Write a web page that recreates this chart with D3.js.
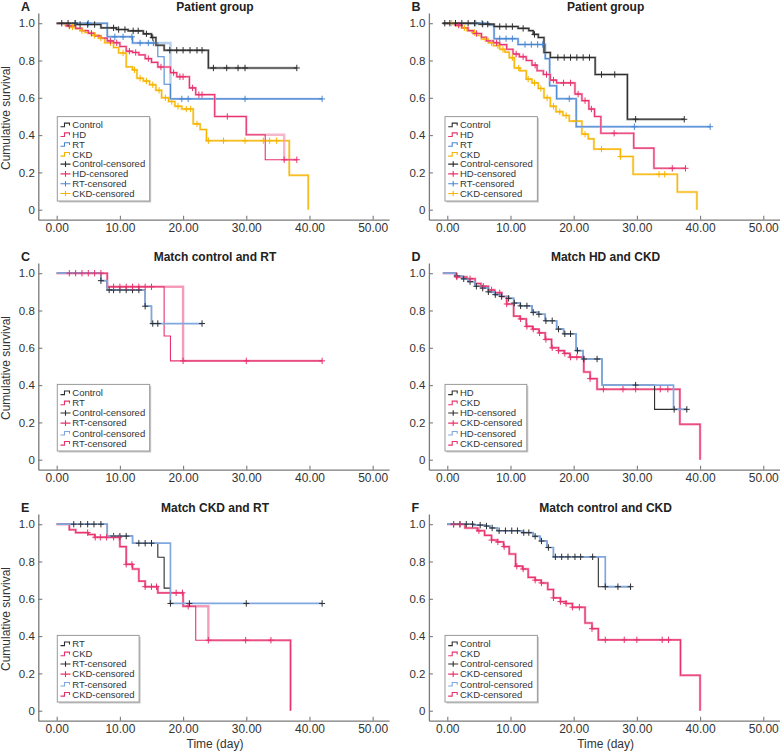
<!DOCTYPE html>
<html><head><meta charset="utf-8">
<script src="https://cdn.jsdelivr.net/npm/d3@7"></script>
<style>
body{margin:0;background:#fff}
svg{display:block}
text{font-family:"Liberation Sans",Arial,Helvetica,sans-serif}
</style>
</head><body>
<svg id="chart" width="780" height="752"></svg>
<script>
// ---------- axis ticks ----------
const xTicks = [0, 10, 20, 30, 40, 50];
const xTickLabels = ["0.00", "10.00", "20.00", "30.00", "40.00", "50.00"];
const yTicks = [0, 0.2, 0.4, 0.6, 0.8, 1.0];
const yTickLabels = ["0", "0.2", "0.4", "0.6", "0.8", "1.0"];

// ---------- Panel A : events [time, survival], censored times ----------
const A_control = [[3,0.993],[7,0.975],[9.5,0.966],[11.3,0.959],[13.7,0.943],[15,0.923],[15.7,0.882],[17,0.855],[24,0.76]];
const A_control_c = [0.8,1.8,2.9,3.7,4.9,6,9,9.8,10.8,12.1,12.9,14.2,15.2,17.9,19,20,21.1,22.2,23,24.8,26.9,28.7,29.8,38];
const A_hd = [[1.5,0.985],[3,0.972],[4,0.96],[5,0.946],[6,0.932],[7,0.92],[8,0.905],[9,0.895],[10,0.875],[11,0.85],[12,0.843],[13,0.83],[14,0.81],[15,0.79],[16,0.765],[18,0.735],[19,0.713],[21,0.653],[22,0.617],[25,0.5],[30,0.402],[33,0.268]];
const A_hd_alt = [[1.5,0.985],[3,0.972],[4,0.96],[5,0.946],[6,0.932],[7,0.92],[8,0.905],[9,0.895],[10,0.875],[11,0.85],[12,0.843],[13,0.83],[14,0.81],[15,0.79],[16,0.765],[18,0.735],[19,0.713],[21,0.653],[22,0.617],[25,0.5],[30,0.402],[36,0.268]];
const A_hd_c = [2,5.5,8.5,9.5,11.5,12.5,14.5,16.5,18.5,19.5,20,21.5,22.5,23,27,36,38];
const A_rt = [[8,0.927],[12,0.894],[16,0.82],[17,0.673],[18,0.594]];
const A_rt_alt = [[8,0.927],[12,0.894],[18,0.594]];
const A_rt_c = [3,5,9.2,10.5,11.9,13.2,14.5,15.3,19.8,20.8,29.8,42];
const A_ckd = [[1.3,0.99],[2,0.98],[3,0.97],[3.7,0.96],[4.5,0.95],[5.5,0.935],[6.6,0.92],[7.6,0.895],[9,0.87],[9.8,0.84],[11,0.766],[12,0.75],[12.7,0.705],[13.7,0.69],[14.7,0.67],[15.7,0.64],[16.6,0.6],[17.7,0.58],[18.7,0.555],[19.8,0.54],[21.6,0.46],[22.7,0.43],[23.7,0.37],[36.8,0.185],[39.8,0]];
const A_ckd_c = [2.5,4,6,7,8.5,10.5,12.3,13.2,14.2,15.2,16.2,17.2,18.2,19.2,20.5,21.2,22.2,24,26.4,29.8,32.7,33.7,34.8];

// ---------- Panel B ----------
const B_control = [[5,0.995],[7.4,0.982],[11.2,0.972],[12.9,0.96],[13.6,0.94],[14.4,0.923],[15.3,0.843],[16.3,0.816],[23.4,0.725],[28.5,0.485]];
const B_control_c = [-0.4,0.4,1.3,2.3,3.3,4.3,5.6,6.4,8.3,9.3,10.3,12,13.8,17.5,18.5,19.5,20.5,21.5,22.5,24.4,26.5,29.8,37.5];
const B_hd = [[1.2,0.99],[2.3,0.975],[3.3,0.96],[4.1,0.945],[5.4,0.925],[6.2,0.905],[7.3,0.895],[8.3,0.885],[9.4,0.86],[10.4,0.835],[11.4,0.82],[12.5,0.8],[13.4,0.775],[14.2,0.745],[15.2,0.725],[16.3,0.695],[17.3,0.68],[20.2,0.62],[21.3,0.585],[22.4,0.54],[23.3,0.5],[24.3,0.41],[29.5,0.33],[32.7,0.222]];
const B_hd_c = [1.8,4.6,7.8,10.9,12,13.9,15.7,16.8,18.4,19.5,20.7,21.8,22.8,26.4,35.6,37.7];
const B_rt = [[6.5,0.99],[7.4,0.917],[11.2,0.886],[15.5,0.81],[16.2,0.665],[17.3,0.595],[20.4,0.445]];
const B_rt_c = [4.5,5.5,8.3,9.3,10.3,12.3,13.3,14.3,15.1,19.3,29.6,41.6];
const B_ckd = [[1.5,0.985],[2.3,0.975],[3.1,0.96],[3.9,0.95],[4.7,0.935],[5.4,0.915],[6.5,0.895],[7.3,0.88],[8.3,0.86],[9.1,0.845],[9.8,0.815],[10.6,0.76],[11.5,0.745],[12.5,0.7],[13.4,0.68],[14.4,0.65],[15.3,0.6],[16.3,0.555],[17.2,0.525],[18.3,0.505],[19.3,0.475],[21.3,0.405],[22.3,0.38],[23.2,0.325],[27.4,0.285],[29.4,0.19],[36.4,0.095],[39.5,0]];
const B_ckd_c = [0.7,2.7,4.3,6,7,8,8.8,10.3,11.3,12.8,13.8,14.8,15.8,16.8,17.8,18.8,20.3,21.8,24.4,27.4,33.5,34.4];

// ---------- Panel C ----------
const C_control = [[7,0.96],[8,0.91],[14,0.823],[15,0.73]];
const C_control_c = [7,8.3,9,10,11,12,13,14,15.2,16,23];
const C_rt = [[8,0.927],[17,0.663],[18,0.53]];
const C_rt_alt = [[8,0.927],[20,0.53]];
const C_rt_c = [2,3,4,5,6,7,9,10,11,12,13,14,15,20,30,42];

// ---------- Panel D ----------
const D_hd = [[1.2,0.985],[2.3,0.97],[3.3,0.955],[4.4,0.93],[5.4,0.92],[6.5,0.9],[7.5,0.885],[8.6,0.875],[9.7,0.865],[10.5,0.84],[11.5,0.825],[13.4,0.79],[14.4,0.78],[15.5,0.745],[17.3,0.7],[18.4,0.675],[20.4,0.585],[21.5,0.54],[24.5,0.4],[32.8,0.27]];
const D_hd_alt = [[1.2,0.985],[2.3,0.97],[3.3,0.955],[4.4,0.93],[5.4,0.92],[6.5,0.9],[7.5,0.885],[8.6,0.875],[9.7,0.865],[10.5,0.84],[11.5,0.825],[13.4,0.79],[14.4,0.78],[15.5,0.745],[17.3,0.7],[18.4,0.675],[20.4,0.585],[21.5,0.54],[24.5,0.4],[35.8,0.27]];
const D_hd_c = [1.5,2.6,3.6,4.6,5.6,6.5,7.6,8.6,9.7,10.6,11.6,12.6,13.6,14.5,15.6,16.6,17.6,18.6,19.5,20.6,21.6,23.7,29.8,35.9,37.9];
const D_ckd = [[1.4,0.98],[3.1,0.97],[4.4,0.945],[5.3,0.93],[6.5,0.91],[7.5,0.895],[8.6,0.875],[9.4,0.835],[10.5,0.77],[11.5,0.755],[12.5,0.715],[13.5,0.7],[14.5,0.68],[15.5,0.645],[16.5,0.6],[17.6,0.585],[18.5,0.57],[19.4,0.55],[21.6,0.47],[22.6,0.435],[23.7,0.378],[36.8,0.19],[40,0]];
const D_ckd_c = [1.5,3.6,5.7,7,8.3,9.4,11.6,12.6,13.6,14.6,15.6,16.6,17.6,18.6,19.5,20.5,22.6,24.7,27.8,29.8,33.7,34.9];

// ---------- Panel E ----------
const E_rt = [[8,0.936],[12,0.898],[16,0.823],[17,0.657],[18,0.575]];
const E_rt_alt = [[8,0.936],[12,0.898],[18,0.575]];
const E_rt_c = [2.7,3.8,4.9,5.9,7,9,10,11,13,14,15,18,21,30,42];
const E_ckd = [[2,0.97],[3,0.955],[5,0.945],[6,0.93],[10,0.88],[11,0.785],[12,0.76],[13,0.695],[14,0.665],[16,0.632],[20,0.56],[22,0.378],[37,0]];
const E_ckd_alt = [[2,0.97],[3,0.955],[5,0.945],[6,0.93],[10,0.88],[11,0.785],[12,0.76],[13,0.695],[14,0.665],[16,0.632],[20,0.56],[24,0.378],[37,0]];
const E_ckd_c = [4.9,6.1,6.9,7.9,9,9.9,11,11.9,14,15,15.8,18.9,19.9,20.8,24,29.9,33.9];

// ---------- Panel F ----------
const F_control = [[4.1,0.995],[6,0.99],[6.8,0.98],[7.9,0.965],[11.8,0.955],[13.6,0.935],[14.7,0.91],[15.75,0.875],[16.8,0.825],[23.9,0.665]];
const F_control_alt = [[4.1,0.995],[6,0.99],[6.8,0.98],[7.9,0.965],[11.8,0.955],[13.6,0.935],[14.7,0.91],[15.75,0.875],[16.8,0.825],[25,0.665]];
const F_control_c = [1,2,3,4,5.2,6.2,7.1,8.2,9.2,10.2,11.1,12.1,12.9,13.9,14.9,16,17.1,18.1,19.1,20.2,21.1,23,25,27,29];
const F_ckd = [[2.8,0.98],[4.75,0.965],[5.9,0.94],[7,0.915],[7.9,0.905],[8.9,0.88],[9.8,0.84],[10.8,0.775],[11.9,0.76],[12.8,0.715],[13.9,0.7],[14.85,0.685],[15.9,0.65],[16.8,0.605],[17.9,0.585],[18.8,0.575],[19.8,0.555],[21.8,0.47],[22.9,0.44],[23.9,0.38],[36.9,0.19],[40,0]];
const F_ckd_c = [1,2,5,7,8,9,11,12,13.9,14.9,16.8,17.9,18.8,19.8,20.9,22.9,25,28,30,34,35];

// ---------- styles ----------
const BLACK = "#2e2e2e", BLACK_L = "#8a8a8a";
const PINK = "#e8336d", PINK_L = "#f39dbb";
const BLUE = "#4a87d2", BLUE_L = "#9dbfe9", BLUE_OV = "#80a8df";
const YEL = "#f6b400", YEL_L = "#fbd778";
const AXIS = "#7a7a7a", TXT = "#333";

const panels = [
  {letter:"A", title:"Patient group", col:0, row:0, start:0, ylab:true, xlab:false, mode:"multi",
   curves:[
     {ev:A_ckd, cens:A_ckd_c, thin:YEL, thick:YEL_L},
     {ev:A_rt, alt:A_rt_alt, cens:A_rt_c, thin:BLUE, thick:BLUE_L},
     {ev:A_hd, alt:A_hd_alt, cens:A_hd_c, thin:PINK, thick:PINK_L},
     {ev:A_control, cens:A_control_c, thin:BLACK, thick:BLACK_L}],
   legend:[["Control","step",BLACK],["HD","step",PINK],["RT","step",BLUE],["CKD","step",YEL],
           ["Control-censored","plus",BLACK],["HD-censored","plus",PINK],["RT-censored","plus",BLUE],["CKD-censored","plus",YEL]]},
  {letter:"B", title:"Patient group", col:1, row:0, start:-0.7, ylab:false, xlab:false, mode:"multi",
   curves:[
     {ev:B_ckd, cens:B_ckd_c, thin:YEL, thick:YEL_L},
     {ev:B_rt, cens:B_rt_c, thin:BLUE, thick:BLUE_L},
     {ev:B_hd, cens:B_hd_c, thin:PINK, thick:PINK_L},
     {ev:B_control, cens:B_control_c, thin:BLACK, thick:BLACK_L}],
   legend:[["Control","step",BLACK],["HD","step",PINK],["RT","step",BLUE],["CKD","step",YEL],
           ["Control-censored","plus",BLACK],["HD-censored","plus",PINK],["RT-censored","plus",BLUE],["CKD-censored","plus",YEL]]},
  {letter:"C", title:"Match control and RT", col:0, row:1, start:0, ylab:true, xlab:false, mode:"pair",
   g1:{ev:C_control, cens:C_control_c}, g2:{ev:C_rt, alt:C_rt_alt, cens:C_rt_c},
   legend:[["Control","step",BLACK],["RT","step",PINK],["Control-censored","plus",BLACK],["RT-censored","plus",PINK],["Control-censored","step",BLUE_OV],["RT-censored","step",PINK]]},
  {letter:"D", title:"Match HD and CKD", col:1, row:1, start:-0.7, ylab:false, xlab:false, mode:"pair",
   g1:{ev:D_hd, alt:D_hd_alt, cens:D_hd_c}, g2:{ev:D_ckd, cens:D_ckd_c},
   legend:[["HD","step",BLACK],["CKD","step",PINK],["HD-censored","plus",BLACK],["CKD-censored","plus",PINK],["HD-censored","step",BLUE_OV],["CKD-censored","step",PINK]]},
  {letter:"E", title:"Match CKD and RT", col:0, row:2, start:0, ylab:true, xlab:true, mode:"pair",
   g1:{ev:E_rt, alt:E_rt_alt, cens:E_rt_c}, g2:{ev:E_ckd, alt:E_ckd_alt, cens:E_ckd_c},
   legend:[["RT","step",BLACK],["CKD","step",PINK],["RT-censored","plus",BLACK],["CKD-censored","plus",PINK],["RT-censored","step",BLUE_OV],["CKD-censored","step",PINK]]},
  {letter:"F", title:"Match control and CKD", col:1, row:2, start:0, ylab:false, xlab:true, mode:"pair",
   g1:{ev:F_control, alt:F_control_alt, cens:F_control_c}, g2:{ev:F_ckd, cens:F_ckd_c},
   legend:[["Control","step",BLACK],["CKD","step",PINK],["Control-censored","plus",BLACK],["CKD-censored","plus",PINK],["Control-censored","step",BLUE_OV],["CKD-censored","step",PINK]]}
];

const svg = d3.select("#chart");
const colX = [0, 390.6];
const rowY = [0, 250, 501];

function endTime(ev, cens){
  const a = ev.length ? ev[ev.length-1][0] : 0;
  const b = cens.length ? d3.max(cens) : 0;
  return Math.max(a, b);
}
function stepD(start, ev, end, x, y){
  let d = `M${x(start)},${y(1)}`;
  ev.forEach(([t,s]) => { d += `H${x(t)}V${y(s)}`; });
  const last = ev.length ? ev[ev.length-1][0] : start;
  if (end > last) d += `H${x(end)}`;
  return d;
}
function survAt(ev, t){
  let s = 1;
  for (const [et, es] of ev) { if (et <= t + 1e-9) s = es; }
  return s;
}

panels.forEach(p => {
  const X0 = colX[p.col], T = rowY[p.row];
  const x = d3.scaleLinear().domain([-2.911, 52.6]).range([X0 + 38.3, X0 + 389.1]);
  const y = d3.scaleLinear().domain([-0.0536, 1.0547]).range([T + 219.7, T + 13]);
  const g = svg.append("g");

  // axes
  const xa = g.append("g").attr("transform", `translate(0,${T + 219.7})`)
    .call(d3.axisBottom(x).tickValues(xTicks).tickFormat((d,i) => xTickLabels[i]).tickSizeInner(-4).tickSizeOuter(0).tickPadding(4));
  const ya = g.append("g").attr("transform", `translate(${X0 + 38.3},0)`)
    .call(d3.axisLeft(y).tickValues(yTicks).tickFormat((d,i) => yTickLabels[i]).tickSizeInner(-4).tickSizeOuter(0).tickPadding(3.5));
  [xa, ya].forEach(a => {
    a.select(".domain").attr("stroke", AXIS).attr("stroke-width", 1.3);
    a.selectAll(".tick line").attr("stroke", AXIS).attr("stroke-width", 1.1);
    a.selectAll(".tick text").attr("fill", TXT).style("font-size", "12px").style("font-family", '"Liberation Sans",Arial,sans-serif');
  });
  ya.selectAll(".tick text").style("font-size", "11.5px");

  // letter, title
  g.append("text").attr("x", X0 + 21).attr("y", T + 10.5).text(p.letter)
    .style("font-size", "12.5px").style("font-weight", "bold").attr("fill", "#222");
  g.append("text").attr("x", X0 + 215).attr("y", T + 11).attr("text-anchor", "middle").text(p.title)
    .style("font-size", "12px").style("font-weight", "bold").attr("fill", "#222");
  if (p.ylab) {
    g.append("text").attr("transform", `translate(${X0 + 10},${T + 118}) rotate(-90)`).attr("text-anchor", "middle")
      .text("Cumulative survival").style("font-size", "12px").attr("fill", TXT);
  }
  if (p.xlab) {
    g.append("text").attr("x", X0 + 215).attr("y", T + 219.7 + 27.5).attr("text-anchor", "middle")
      .text("Time (day)").style("font-size", "12px").attr("fill", TXT);
  }

  const lines = g.append("g").attr("fill", "none");
  const marks = [];
  if (p.mode === "multi") {
    p.curves.forEach(c => {
      const end = endTime(c.ev, c.cens);
      lines.append("path").attr("d", stepD(p.start, c.alt || c.ev, end, x, y)).attr("stroke", c.thick).attr("stroke-width", 2.4).attr("stroke-opacity", 0.75);
      lines.append("path").attr("d", stepD(p.start, c.ev, end, x, y)).attr("stroke", c.thin).attr("stroke-width", 1.1);
      c.cens.forEach(t => marks.push({t, s: survAt(c.ev, t), color: c.thin}));
    });
  } else {
    const g1 = p.g1, g2 = p.g2;
    const e1 = endTime(g1.ev, g1.cens), e2 = endTime(g2.ev, g2.cens);
    lines.append("path").attr("d", stepD(p.start, g2.alt || g2.ev, e2, x, y)).attr("stroke", PINK_L).attr("stroke-width", 2.4);
    lines.append("path").attr("d", stepD(p.start, g2.ev, e2, x, y)).attr("stroke", PINK).attr("stroke-width", 1.1);
    lines.append("path").attr("d", stepD(p.start, g1.ev, e1, x, y)).attr("stroke", BLACK).attr("stroke-width", 1.1);
    lines.append("path").attr("d", stepD(p.start, g1.alt || g1.ev, e1, x, y)).attr("stroke", BLUE_OV).attr("stroke-width", 1.7);
    g1.cens.forEach(t => marks.push({t, s: survAt(g1.ev, t), color: BLACK}));
    g2.cens.forEach(t => marks.push({t, s: survAt(g2.ev, t), color: PINK}));
  }
  const mg = g.append("g").attr("stroke-width", 1);
  marks.forEach(m => {
    mg.append("path").attr("d", `M${x(m.t)},${y(m.s)-3.2}V${y(m.s)+3.2}M${x(m.t)-3},${y(m.s)}H${x(m.t)+3}`)
      .attr("stroke", m.color).attr("fill", "none");
  });

  // legend
  const n = p.legend.length;
  const rowH = n === 8 ? 9.8 : 10.1;
  const lh = n * rowH + 6;
  const lx = X0 + (p.col ? 54.4 : 57.3);
  const ly = T + 201 - lh;
  const lg = g.append("g");
  const shadow = lg.append("rect").attr("fill", "#c8c8c8");
  const box = lg.append("rect").attr("fill", "#fff").attr("stroke", "#9a9a9a").attr("stroke-width", 1);
  let maxW = 0;
  p.legend.forEach(([label, kind, col], i) => {
    const cy = ly + 3.4 + rowH * (i + 0.5);
    const ix = lx + 3.2;
    if (kind === "step") {
      lg.append("path").attr("d", `M${ix},${cy+1.8}H${ix+4}V${cy-1.8}H${ix+9}V${cy+0.6}`)
        .attr("fill", "none").attr("stroke", col).attr("stroke-width", 1.1);
    } else {
      lg.append("path").attr("d", `M${ix},${cy}H${ix+10}M${ix+5},${cy-2.8}V${cy+2.8}`)
        .attr("fill", "none").attr("stroke", col).attr("stroke-width", 1.1);
    }
    const t = lg.append("text").attr("x", lx + 15).attr("y", cy + 3.3).text(label)
      .style("font-size", "9.5px").attr("fill", TXT);
    maxW = Math.max(maxW, t.node().getComputedTextLength());
  });
  const lw = 15 + maxW + 4.5;
  box.attr("x", lx).attr("y", ly).attr("width", lw).attr("height", lh);
  shadow.attr("x", lx + 1.5).attr("y", ly + 1.5).attr("width", lw).attr("height", lh);
});
</script>
</body></html>
